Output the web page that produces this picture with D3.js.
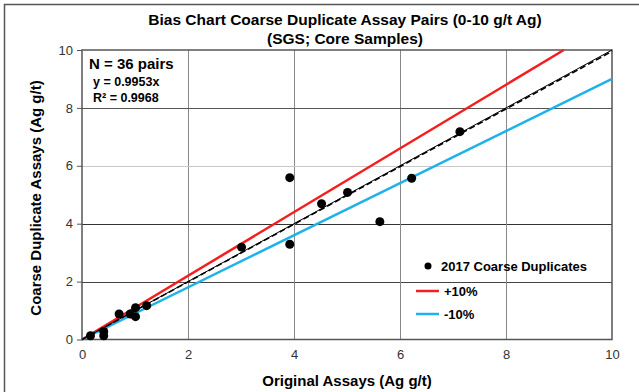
<!DOCTYPE html>
<html><head><meta charset="utf-8">
<script src="https://cdn.jsdelivr.net/npm/d3@7"></script>
<style>body{margin:0;background:#fff;}svg{display:block;font-family:"Liberation Sans",Arial,sans-serif;}</style>
</head><body><svg id="c" width="639" height="392"></svg>
<script>
const origAssays = [0.16,0.41,0.41,0.70,0.91,1.01,1.01,1.22,3.01,3.92,3.92,4.52,5.01,5.62,6.22,7.13];
const dupAssays  = [0.13,0.13,0.28,0.88,0.88,1.10,0.79,1.17,3.19,5.59,3.29,4.69,5.08,4.07,5.57,7.18];
const tickValues = [0,2,4,6,8,10];
const slopeFit = 0.9953;
const bandUpper = 1.1, bandLower = 0.9;
const titleLines = ["Bias Chart Coarse Duplicate Assay Pairs (0-10 g/t Ag)","(SGS; Core Samples)"];
const legendLabels = ["2017 Coarse Duplicates","+10%","-10%"];

const svg = d3.select("#c");
const m = {l:82, r:612, t:50, b:339.5};
const x = d3.scaleLinear().domain([0,10]).range([m.l, m.r]);
const y = d3.scaleLinear().domain([0,10]).range([m.b, m.t]);

// outer frame (left/top)
svg.append("path").attr("d","M4.5,392V4.5H639").attr("fill","none").attr("stroke","#555").attr("stroke-width",1.5);

// gridlines
const hColor = {2:"#444",4:"#333",6:"#c8c8c8",8:"#555"};
tickValues.filter(v=>v>0&&v<10).forEach(v=>{
  svg.append("line").attr("x1",x(0)).attr("x2",x(10)).attr("y1",Math.round(y(v))+0.5).attr("y2",Math.round(y(v))+0.5)
    .attr("stroke",hColor[v]).attr("stroke-width",1);
  svg.append("line").attr("y1",y(0)).attr("y2",y(10)).attr("x1",Math.round(x(v))+0.5).attr("x2",Math.round(x(v))+0.5)
    .attr("stroke","#888").attr("stroke-width",1);
});

// axes
const xAxis = svg.append("g").attr("transform",`translate(0,${y(0)})`)
  .call(d3.axisBottom(x).tickValues(tickValues).tickSize(0).tickPadding(10).tickFormat(d3.format("d")));
const yAxis = svg.append("g").attr("transform",`translate(${x(0)},0)`)
  .call(d3.axisLeft(y).tickValues(tickValues).tickSize(5).tickPadding(4).tickFormat(d3.format("d")));
[xAxis,yAxis].forEach(g=>{
  g.select(".domain").remove();
  g.selectAll("text").attr("font-size",13).attr("fill","#333").attr("font-family","Liberation Sans, Arial, sans-serif");
  g.selectAll("line").attr("stroke","#555");
});

// plot border
svg.append("rect").attr("x",x(0)).attr("y",y(10)).attr("width",x(10)-x(0)).attr("height",y(0)-y(10))
  .attr("fill","none").attr("stroke","#555").attr("stroke-width",1.5);

// lines
const line = d3.line().x(d=>x(d[0])).y(d=>y(d[1]));
svg.append("path").attr("d",line([[0,0],[10/bandUpper,10]])).attr("stroke","#f51d1d").attr("stroke-width",2.5).attr("fill","none");
svg.append("path").attr("d",line([[0,0],[10,10*bandLower]])).attr("stroke","#1eb1ea").attr("stroke-width",2.5).attr("fill","none");
svg.append("path").attr("d",line([[0,0],[10,10]])).attr("stroke","#000").attr("stroke-width",1).attr("fill","none");
svg.append("path").attr("d",line([[0,0],[10,10*slopeFit]])).attr("stroke","#000").attr("stroke-width",1.6).attr("stroke-dasharray","6,3").attr("fill","none");

// points
svg.append("g").selectAll("circle").data(origAssays.map((v,i)=>[v,dupAssays[i]])).join("circle")
  .attr("cx",d=>x(d[0])).attr("cy",d=>y(d[1])).attr("r",4.5).attr("fill","#000");

// titles
svg.append("text").attr("x",345).attr("y",25).attr("text-anchor","middle").attr("font-size",15.5).attr("font-weight","bold").text(titleLines[0]);
svg.append("text").attr("x",345).attr("y",44).attr("text-anchor","middle").attr("font-size",15.5).attr("font-weight","bold").text(titleLines[1]);
svg.append("text").attr("x",347).attr("y",386).attr("text-anchor","middle").attr("font-size",15).attr("font-weight","bold").text("Original Assays (Ag g/t)");
svg.append("text").attr("transform","translate(41,198) rotate(-90)").attr("text-anchor","middle").attr("font-size",15).attr("font-weight","bold").text("Coarse Duplicate Assays (Ag g/t)");

// annotation
svg.append("text").attr("x",89).attr("y",69).attr("font-size",15).attr("font-weight","bold").text("N = 36 pairs");
svg.append("text").attr("x",93).attr("y",86).attr("font-size",12.5).attr("font-weight","bold").text("y = 0.9953x");
svg.append("text").attr("x",93).attr("y",102).attr("font-size",12.5).attr("font-weight","bold").text("R² = 0.9968");

// legend
const lg = svg.append("g");
lg.append("circle").attr("cx",428).attr("cy",266).attr("r",3.5).attr("fill","#000");
lg.append("text").attr("x",441).attr("y",271).attr("font-size",13).attr("font-weight","bold").text(legendLabels[0]);
lg.append("line").attr("x1",416).attr("x2",439).attr("y1",291).attr("y2",291).attr("stroke","#f51d1d").attr("stroke-width",2.5);
lg.append("text").attr("x",444).attr("y",296).attr("font-size",13).attr("font-weight","bold").text(legendLabels[1]);
lg.append("line").attr("x1",416).attr("x2",439).attr("y1",314).attr("y2",314).attr("stroke","#1eb1ea").attr("stroke-width",2.5);
lg.append("text").attr("x",444).attr("y",319).attr("font-size",13).attr("font-weight","bold").text(legendLabels[2]);
</script></body></html>
